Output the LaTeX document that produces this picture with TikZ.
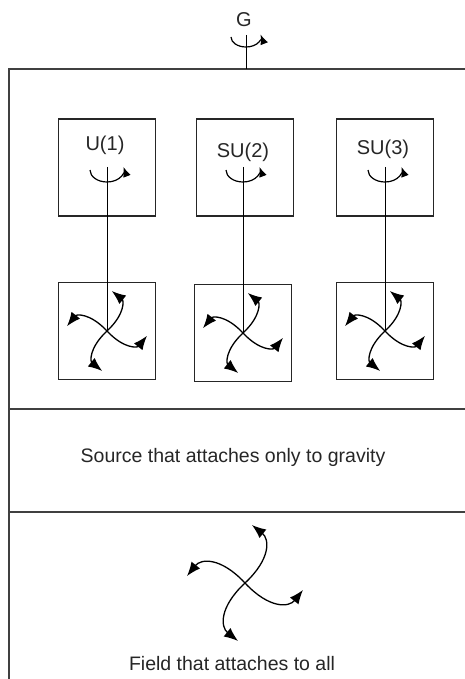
\documentclass[tikz,border=0pt]{standalone}
\usepackage{fontspec}
\setmainfont{Liberation Sans}
\usetikzlibrary{arrows.meta}
\tikzset{
	frame/.style={line width=1.6pt,black!75},
	box/.style={draw,line width=1.3pt,black!85,minimum size=97pt,inner sep=0pt},
	lbl/.style={font=\fontsize{20}{24}\selectfont,text=black!85},
	txt/.style={font=\fontsize{19.5}{23}\selectfont,text=black!85},
	spin/.style={line width=1.3pt,-{Latex[length=14pt,width=11pt]}},
	twirl/.style={line width=1.2pt,-{Latex[length=10pt,width=8pt]}},
}
\newcommand{\pinwheel}[2]{%
	\foreach \a in {0,90,180,270}
	\draw[spin,shift={(#1)},rotate=\a,scale=#2] (0,0) .. controls (0.45,0.42) and (0.42,0.76) .. (0.12,1);
}
\begin{document}
\begin{tikzpicture}[x=1pt,y=1pt]
	\useasboundingbox (0,0) rectangle (465,-679);
	\draw[frame] (465,-69) -| (9,-679);
	\draw[frame] (9,-409) -- (465,-409) (9,-512) -- (465,-512);
	\node[lbl] (G) at (244,-20) {G};
	\coordinate (Gax) at (246,-35);
	\coordinate (Gtop) at (246,-69);
	\draw[line width=1pt] (Gax) -- (Gtop);
	\draw[twirl] (246,-37) ++(-15,0) arc[start angle=180,end angle=375,x radius=15,y radius=10];
	\foreach \i/\x/\lx/\ly/\px/\py/\t in {1/107/105/145/107/331/U(1),2/245/243/152/243/333/SU(2),3/385/383/149/385/331/SU(3)}{
		\node[box] (grp\i) at (\x,-167.5) {};
		\node[lbl] (name\i) at (\lx,-\ly) {\t};
		\node[box] (src\i) at (\px,-\py) {};
		\coordinate (ax\i) at (\px,-167);
		\draw[line width=1pt] (ax\i) -- (src\i.center);
		\draw[twirl] (\px,-170) ++(-17,0) arc[start angle=180,end angle=375,x radius=17,y radius=12];
		\pinwheel{src\i.center}{40}
	}
	\node[txt] (gravity) at (233,-457) {Source that attaches only to gravity};
	\coordinate (fld) at (245,-583);
	\pinwheel{fld}{58}
	\node[txt] (all) at (232,-664) {Field that attaches to all};
\end{tikzpicture}
\end{document}
